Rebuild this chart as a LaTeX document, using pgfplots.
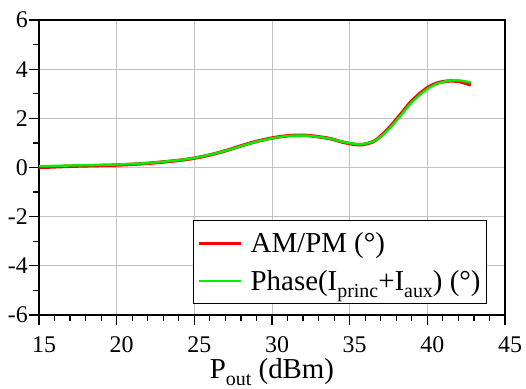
\documentclass[border=0pt]{standalone}
\usepackage{pgfplots}
\pgfplotsset{compat=1.18}
\usepackage{fontspec}
\setmainfont{Liberation Serif}
\definecolor{mygreen}{RGB}{0,240,0}
\definecolor{myred}{RGB}{255,0,0}
\definecolor{gridgray}{RGB}{195,195,195}
\newcommand{\sub}[1]{\raisebox{-0.24em}{\fontsize{20}{22}\selectfont #1}}
\begin{document}
\begin{tikzpicture}
\useasboundingbox (0,0) rectangle (526bp,389bp);
\begin{axis}[
  at={(39bp,74bp)}, anchor=south west,
  scale only axis, width=466bp, height=295bp,
  xmin=15, xmax=45, ymin=-6, ymax=6,
  xtick={15,20,...,45}, ytick={-6,-4,...,6},
  minor x tick num=4, minor y tick num=1,
  tick align=outside, xtick pos=left, ytick pos=left,
  major tick length=10bp, minor tick length=6bp,
  grid=major, major grid style={gridgray, line width=1bp},
  axis line style={line width=1.3bp},
  every tick/.style={black, line width=1.2bp},
  /pgf/number format/assume math mode=true,
  xticklabel style={font=\fontsize{24}{28}\selectfont, xshift=5bp, yshift=-8bp},
  yticklabel style={font=\fontsize{24}{28}\selectfont, inner sep=1bp},
  xlabel={P\sub{out} (dBm)},
  xlabel style={font=\fontsize{29}{34}\selectfont, yshift=-1bp, inner sep=1bp},
  legend style={at={(0.33,0.037)}, anchor=south west,
    font=\fontsize{29}{34}\selectfont, draw=black, line width=1bp,
    inner xsep=4bp, inner ysep=10bp, row sep=12bp, column sep=6bp,
    cells={anchor=west}},
  legend image code/.code={\draw[#1] (0bp,0bp) -- (42bp,0bp);},
]
\addplot[myred, line width=3.4bp, smooth] coordinates {
(15,0.00) (17,0.05) (20,0.10) (22,0.17) (24,0.29) (25,0.38) (26,0.51)
(27,0.68) (28,0.88) (29,1.06) (30,1.20) (31,1.29) (31.8,1.31) (32.5,1.29)
(33.7,1.18) (34.5,1.04) (35.2,0.95) (35.8,0.93) (36.6,1.08) (37.4,1.52)
(38.25,2.14) (39.0,2.71) (39.9,3.20) (40.6,3.43) (41.4,3.52) (42.1,3.49) (42.8,3.36)
};
\addlegendentry{AM/PM (°)}
\addplot[mygreen, line width=2.4bp, smooth] coordinates {
(15,0.05) (17,0.08) (20,0.12) (22,0.18) (24,0.30) (25,0.39) (26,0.52)
(27,0.68) (28,0.87) (29,1.05) (30,1.19) (31,1.28) (31.8,1.30) (32.5,1.28)
(33.7,1.18) (34.5,1.05) (35.2,0.97) (35.8,0.95) (36.6,1.08) (37.4,1.48)
(38.25,2.08) (39.0,2.65) (39.9,3.15) (40.6,3.40) (41.4,3.53) (42.1,3.54) (42.8,3.46)
};
\addlegendentry{Phase(I\sub{princ}+I\sub{aux}) (°)}
\end{axis}
\end{tikzpicture}
\end{document}
